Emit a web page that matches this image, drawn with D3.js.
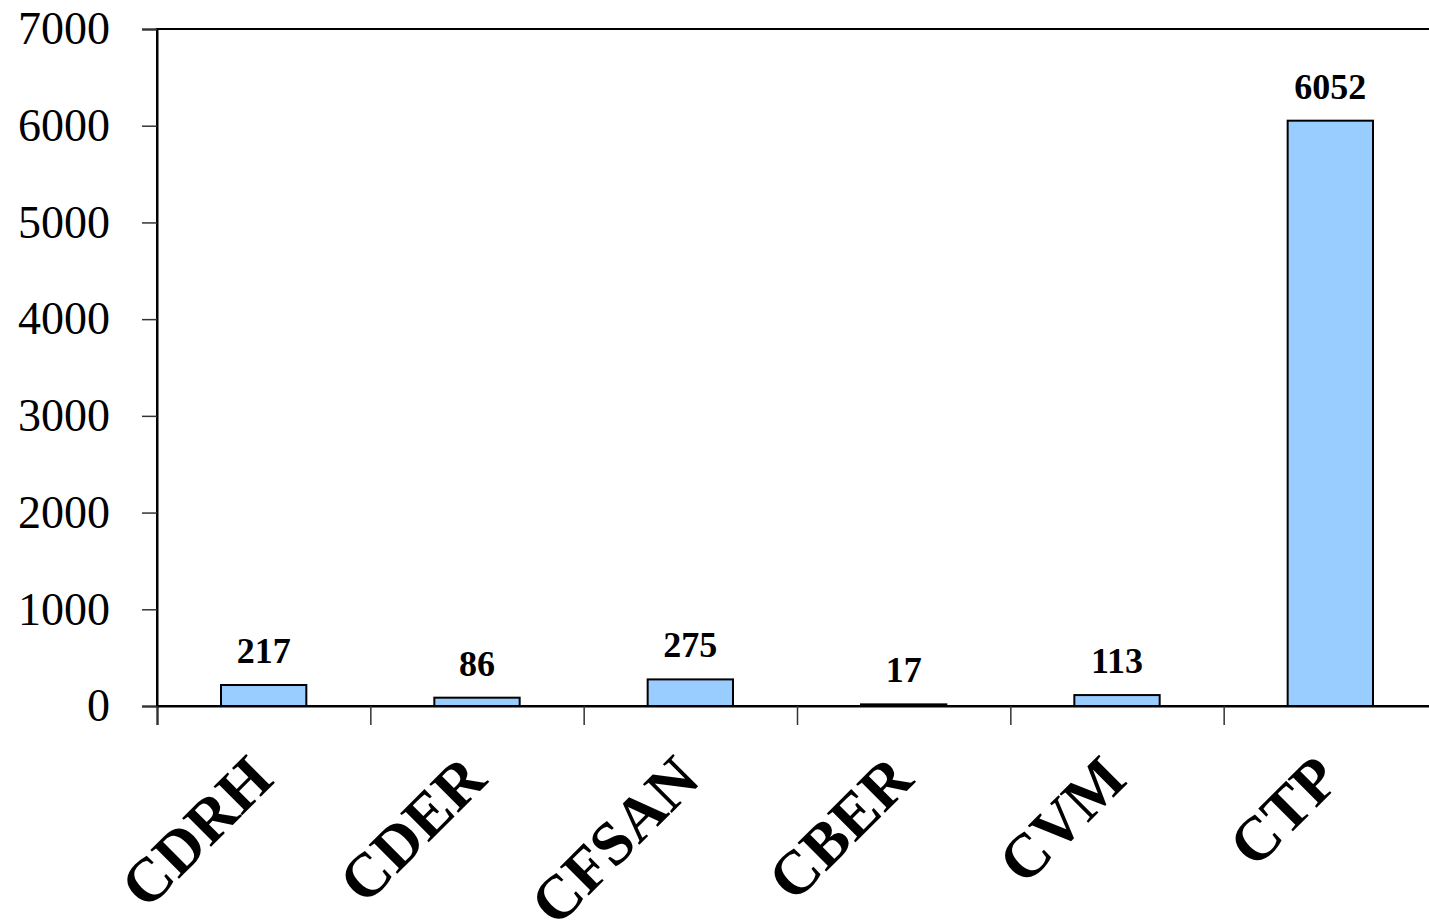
<!DOCTYPE html>
<html>
<head>
<meta charset="utf-8">
<script src="https://cdn.jsdelivr.net/npm/d3@7"></script>
<style>
  body { margin: 0; background: #fff; }
  svg { display: block; }
</style>
</head>
<body>
<div id="chart"></div>
<script>
// data
const centers = ["CDRH", "CDER", "CFSAN", "CBER", "CVM", "CTP"];
const counts = [217, 86, 275, 17, 113, 6052];
const yTicks = [0, 1000, 2000, 3000, 4000, 5000, 6000, 7000];

const W = 1429, H = 924;
const margin = {top: 29, right: -8, bottom: 218, left: 157},
    width = W - margin.left - margin.right,
    height = H - margin.top - margin.bottom;

const svg = d3.select("#chart")
    .append("svg")
    .attr("width", W)
    .attr("height", H);

const g = svg.append("g")
    .attr("transform", `translate(${margin.left},${margin.top})`);

const xScale = d3.scaleBand()
    .domain(centers)
    .range([0, width])
    .paddingInner(0.6)
    .paddingOuter(0.3);

// boundaries between categories, for the tick marks
const xEdges = d3.scaleLinear().domain([0, centers.length]).range([0, width]);

const yScale = d3.scaleLinear().domain([0, 7000]).range([height, 0]);

// plot frame (top + right)
g.append("rect")
    .attr("x", 0).attr("y", 0)
    .attr("width", width).attr("height", height)
    .attr("fill", "none")
    .attr("stroke", "#000")
    .attr("stroke-width", 2);

// Y axis
const yAxis = g.append("g")
    .call(d3.axisLeft(yScale).tickValues(yTicks).tickFormat(d3.format("d")).tickSize(15).tickPadding(32));
yAxis.select(".domain").attr("stroke", "#000").attr("stroke-width", 2);
yAxis.selectAll(".tick line").attr("stroke", "#333").attr("stroke-width", 1.5);
yAxis.selectAll(".tick text")
    .attr("font-family", "'Liberation Serif', 'DejaVu Serif', serif")
    .attr("font-size", "46px")
    .attr("fill", "#000");

// X axis (ticks on category edges)
const xAxis = g.append("g")
    .attr("transform", `translate(0,${height})`)
    .call(d3.axisBottom(xEdges).tickValues(d3.range(centers.length + 1)).tickSize(19).tickFormat(""));
xAxis.select(".domain").attr("stroke", "#000").attr("stroke-width", 2);
xAxis.selectAll(".tick line").attr("stroke", "#333").attr("stroke-width", 1.5);

// category labels, rotated
g.append("g")
    .selectAll("text")
    .data(centers)
    .join("text")
    .attr("transform", d => `translate(${xScale(d) + xScale.bandwidth() / 2 + 12},${height + 76}) rotate(-45)`)
    .attr("text-anchor", "end")
    .attr("font-family", "'Liberation Serif', 'DejaVu Serif', serif")
    .attr("font-weight", "bold")
    .attr("font-size", "62px")
    .text(d => d);

// bars
g.append("g")
    .selectAll("rect")
    .data(centers)
    .join("rect")
    .attr("x", d => xScale(d))
    .attr("y", (d, i) => yScale(counts[i]))
    .attr("width", xScale.bandwidth())
    .attr("height", (d, i) => height - yScale(counts[i]))
    .attr("fill", "#99ccff")
    .attr("stroke", "#000")
    .attr("stroke-width", 2);

// value labels
g.append("g")
    .selectAll("text")
    .data(centers)
    .join("text")
    .attr("x", d => xScale(d) + xScale.bandwidth() / 2)
    .attr("y", (d, i) => yScale(counts[i]) - 22)
    .attr("text-anchor", "middle")
    .attr("font-family", "'Liberation Serif', 'DejaVu Serif', serif")
    .attr("font-weight", "bold")
    .attr("font-size", "36px")
    .text((d, i) => counts[i]);
</script>
</body>
</html>
